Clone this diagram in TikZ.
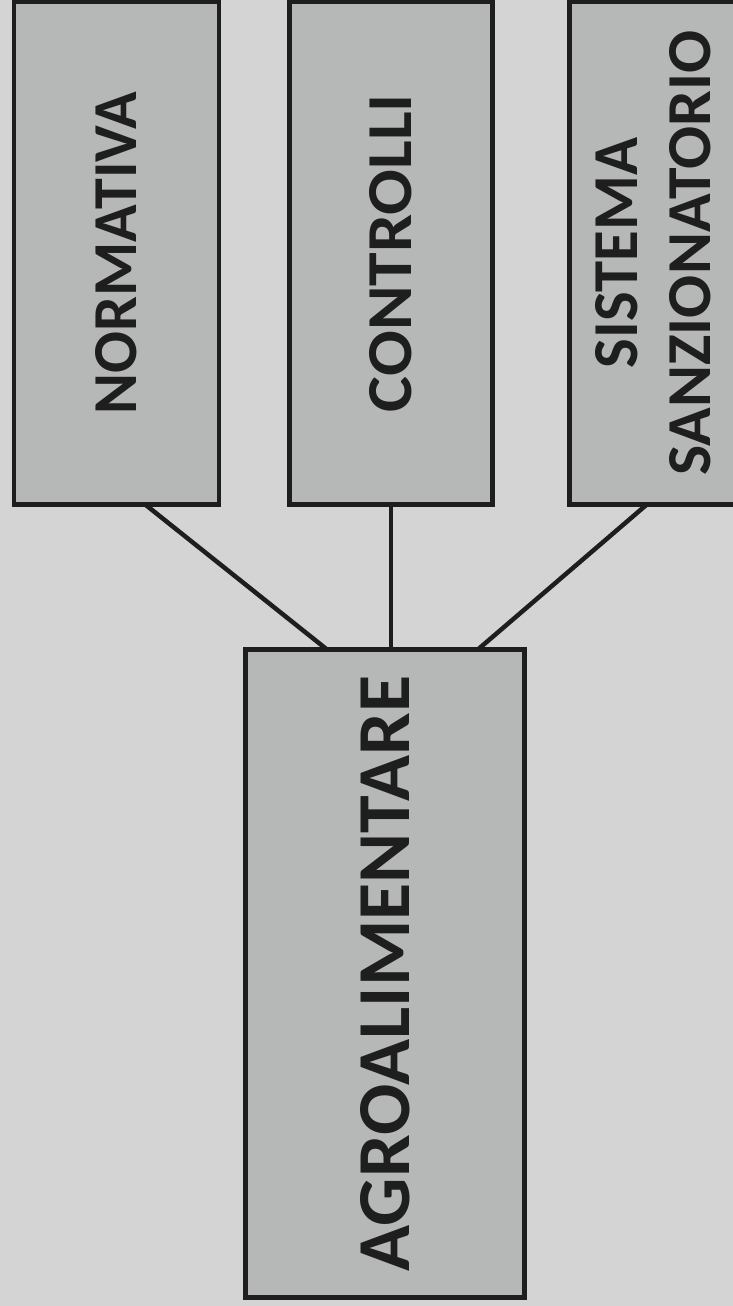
\documentclass[tikz,border=0pt]{standalone}
\usepackage{fontspec}
\setmainfont{Carlito}
\usetikzlibrary{calc}
\definecolor{bg}{HTML}{D3D4D3}
\definecolor{boxfill}{HTML}{B6B8B7}
\definecolor{ink}{HTML}{1E1E1E}
\tikzset{
  blk/.style={rectangle, draw=ink, line width=4.5pt, fill=boxfill, inner sep=0pt, outer sep=0pt, text=ink, font=\bfseries},
  conn/.style={draw=ink, line width=4.5pt},
}
\newcommand{\vtext}[3]{\rotatebox{90}{\resizebox{#1}{#2}{#3}}}
\begin{document}
\begin{tikzpicture}[x=1pt,y=-1pt]
  \useasboundingbox (0,0) rectangle (733,1306);
  \fill[bg] (0,0) rectangle (733,1306);
  \node[blk, minimum width=205pt, minimum height=503pt] (norm) at (116.5,253) {\vtext{323pt}{41pt}{NORMATIVA}};
  \node[blk, minimum width=203pt, minimum height=503pt] (contr) at (391,253) {\vtext{318pt}{42pt}{CONTROLLI}};
  \node[blk, minimum width=167.5pt, minimum height=503pt] (sist) at (653,253) {\rotatebox{90}{\vbox{\offinterlineskip
      \hbox to 445pt{\hss\resizebox{230pt}{42pt}{SISTEMA}\hss}\vskip32pt
      \hbox to 445pt{\resizebox{445pt}{41pt}{SANZIONATORIO}}}}};
  \node[blk, minimum width=279pt, minimum height=648pt] (agro) at (385,973.5) {\vtext{595pt}{49pt}{AGROALIMENTARE}};
  \draw[conn] ($(norm.south west)!0.64!(norm.south east)$) -- ($(agro.north west)!0.292!(agro.north east)$);
  \draw[conn] (contr.south) -- (contr.south |- agro.north);
  \draw[conn] ($(sist.south west)!0.463!(sist.south east)$) -- ($(agro.north west)!0.833!(agro.north east)$);
\end{tikzpicture}
\end{document}
